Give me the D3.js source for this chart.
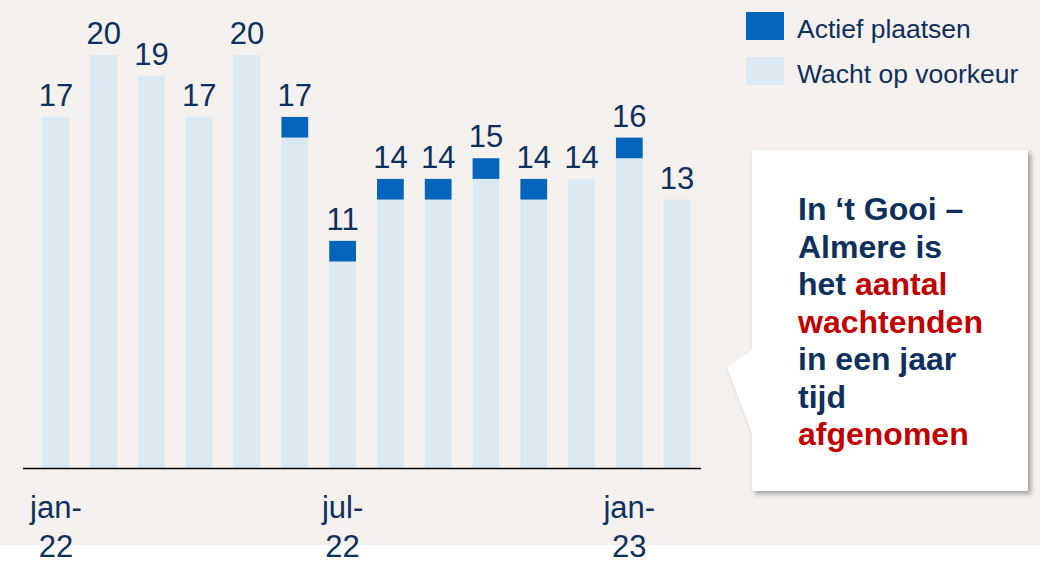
<!DOCTYPE html>
<html>
<head>
<meta charset="utf-8">
<script src="https://cdn.jsdelivr.net/npm/d3@7"></script>
<style>
  body { margin: 0; background: #ffffff; }
  svg { display: block; }
</style>
</head>
<body>
<div id="chart"></div>
<script>
var svgWidth = 1040;
var svgHeight = 568;

// data
var months = ["jan-22", "feb-22", "mrt-22", "apr-22", "mei-22", "jun-22", "jul-22",
              "aug-22", "sep-22", "okt-22", "nov-22", "dec-22", "jan-23", "feb-23"];
var totals = [17, 20, 19, 17, 20, 17, 11, 14, 14, 15, 14, 14, 16, 13];
var actief = [0, 0, 0, 0, 0, 1, 1, 1, 1, 1, 1, 0, 1, 0];
var tickMonths = ["jan-22", "jul-22", "jan-23"];
var seriesNames = ["Actief plaatsen", "Wacht op voorkeur"];
var calloutLines = [
  [["In \u2018t Gooi \u2013", "navy"]],
  [["Almere is", "navy"]],
  [["het ", "navy"], ["aantal", "red"]],
  [["wachtenden", "red"]],
  [["in een jaar", "navy"]],
  [["tijd", "navy"]],
  [["afgenomen", "red"]]
];

var colors = { actief: "#0565bd", wacht: "#dce9f2", navy: "#0f2f5c", red: "#c00000" };

var tableData = months.map(function(m, i) {
    return { month: m, wacht: totals[i] - actief[i], actief: actief[i], total: totals[i] };
});

var svg = d3.select("#chart")
.append("svg")
.attr("width", svgWidth)
.attr("height", svgHeight);

// backgrounds
svg.append("rect").attr("width", svgWidth).attr("height", 545).attr("fill", "#f5f1ee");

var baseline = 468;

var xScale = d3.scaleBand()
.domain(months)
.range([32, 701])
.paddingInner(0.44)
.paddingOuter(0.22);

var yScale = d3.scaleLinear()
.domain([0, 20])
.range([baseline, 55]);

var stack = d3.stack().keys(["wacht", "actief"]);
var layers = stack(tableData);

var chartGroup = svg.append("g");

chartGroup.selectAll("g.layer")
.data(layers)
.enter()
.append("g")
.attr("class", "layer")
.attr("fill", d => d.key == "wacht" ? colors.wacht : colors.actief)
.selectAll("rect")
.data(d => d)
.enter()
.append("rect")
.attr("x", d => xScale(d.data.month))
.attr("y", d => yScale(d[1]))
.attr("width", xScale.bandwidth())
.attr("height", d => yScale(d[0]) - yScale(d[1]));

// value labels
chartGroup.selectAll("text.value")
.data(tableData)
.enter()
.append("text")
.attr("class", "value")
.attr("x", d => xScale(d.month) + xScale.bandwidth() / 2)
.attr("y", d => yScale(d.total) - 11)
.attr("text-anchor", "middle")
.attr("font-family", "Liberation Sans, Arial, sans-serif")
.attr("font-size", "31px")
.attr("fill", colors.navy)
.text(d => d.total);

// x axis line
var xAxis = d3.axisBottom(xScale).tickSize(0).tickValues(tickMonths).tickFormat("");
var axisG = chartGroup.append("g")
.attr("transform", `translate(0, ${baseline})`)
.call(xAxis);
axisG.select(".domain").attr("d", "M23,0.5H701").attr("stroke", "#000").attr("stroke-width", 1.5);

// x tick labels on two lines
axisG.selectAll(".tick").each(function(m) {
    var parts = m.split("-");
    var t = d3.select(this).append("text")
    .attr("text-anchor", "middle")
    .attr("font-family", "Liberation Sans, Arial, sans-serif")
    .attr("font-size", "31px")
    .attr("fill", colors.navy);
    t.append("tspan").attr("x", 0).attr("y", 50).text(parts[0] + "-");
    t.append("tspan").attr("x", 0).attr("y", 89).text(parts[1]);
});

// legend
var legend = svg.append("g");
var legendItems = legend.selectAll("g")
.data(seriesNames)
.enter()
.append("g")
.attr("transform", (d, i) => `translate(746, ${12 + i * 45})`);
legendItems.append("rect")
.attr("width", 38)
.attr("height", 28)
.attr("fill", (d, i) => i == 0 ? colors.actief : colors.wacht);
legendItems.append("text")
.attr("x", 51)
.attr("y", 26)
.attr("font-family", "Liberation Sans, Arial, sans-serif")
.attr("font-size", "26.5px")
.attr("fill", colors.navy)
.text(d => d);

// callout
var defs = svg.append("defs");
var filter = defs.append("filter").attr("id", "shadow")
.attr("x", "-10%").attr("y", "-10%").attr("width", "130%").attr("height", "130%");
filter.append("feDropShadow")
.attr("dx", 3).attr("dy", 3).attr("stdDeviation", 2.5)
.attr("flood-color", "#000").attr("flood-opacity", 0.35);

svg.append("path")
.attr("d", "M752,150H1028V491H752V433L727,367L752,350Z")
.attr("fill", "#ffffff")
.attr("filter", "url(#shadow)");

var callout = svg.append("text")
.attr("font-family", "Liberation Sans, Arial, sans-serif")
.attr("font-weight", "bold")
.attr("font-size", "32px");

calloutLines.forEach(function(line, i) {
    line.forEach(function(part, j) {
        var ts = callout.append("tspan")
        .attr("fill", colors[part[1]])
        .text(part[0]);
        if (j == 0) ts.attr("x", 798).attr("y", 220 + i * 37.5);
    });
});
</script>
</body>
</html>
